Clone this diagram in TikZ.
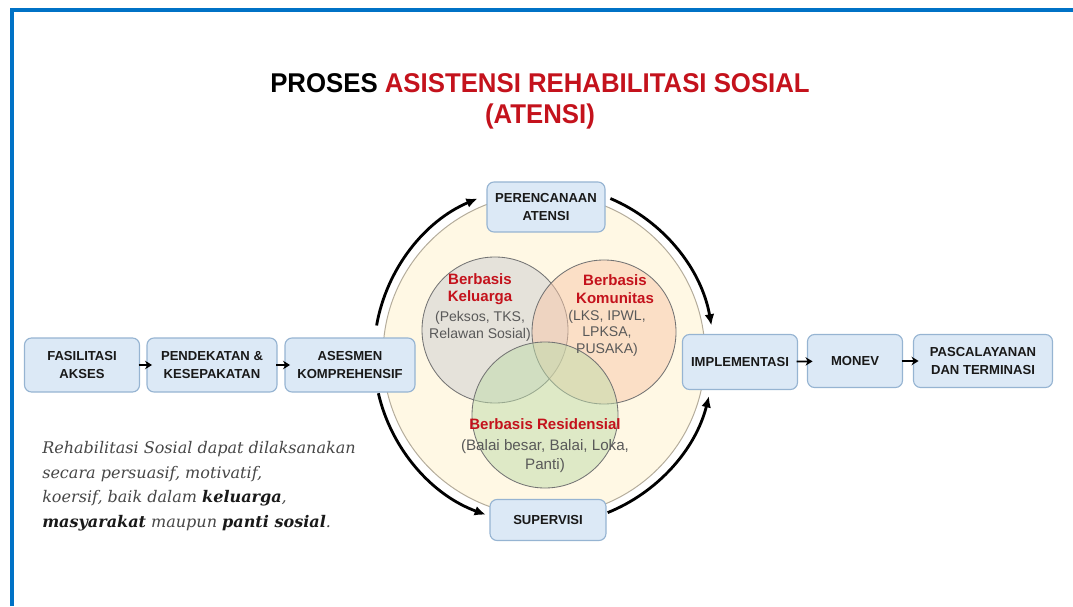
\documentclass[tikz,border=0pt]{standalone}
\usepackage{fontspec}
\setmainfont{Liberation Sans}
\newfontfamily\notefont{DejaVu Serif}
\usepackage{xcolor}
\usetikzlibrary{arrows.meta, positioning}
\definecolor{frameblue}{RGB}{0,114,198}
\definecolor{titlered}{RGB}{196,18,28}
\definecolor{boxfill}{RGB}{220,233,246}
\definecolor{boxline}{RGB}{150,180,210}
\definecolor{ringfill}{RGB}{255,248,228}
\definecolor{ringline}{RGB}{180,172,155}
\definecolor{kelfill}{RGB}{205,205,210}
\definecolor{komfill}{RGB}{248,200,170}
\definecolor{resfill}{RGB}{190,220,170}
\definecolor{notegray}{RGB}{70,70,70}

\tikzset{
  procbox/.style={draw=boxline, fill=boxfill, rounded corners=5pt, line width=0.8pt,
    align=center, inner sep=0pt, font=\fontsize{9.3}{13}\selectfont\bfseries, text=black!90},
  flowarrow/.style={-{Stealth[length=5pt,width=6pt]}, line width=1.3pt, shorten <=-1pt, shorten >=-4pt},
  cyclearrow/.style={-{Latex[length=8pt,width=7pt]}, line width=2pt},
  venn/.style={circle, draw=black!55, line width=0.6pt, fill opacity=0.5, inner sep=0pt, outer sep=0pt},
  venntitle/.style={font=\fontsize{10.7}{12.5}\selectfont\bfseries, text=titlered},
  vennbody/.style={font=\fontsize{10}{12}\selectfont, text=black!65}
}

\begin{document}
\begin{tikzpicture}
\useasboundingbox (0,0) rectangle (26.825,15.15);

 % frame
 \draw[frameblue, line width=3pt] (0.3,0) -- (0.3,14.9) -- (26.825,14.9);

 % title
 \node (title) at (13.5,13.07) {\scalebox{0.95}[1]{\fontsize{19.3}{22}\selectfont\bfseries PROSES \textcolor{titlered}{ASISTENSI REHABILITASI SOSIAL}}};
 \node[anchor=base] (subtitle) at ([yshift=-0.78cm]title.base) {\scalebox{0.95}[1]{\fontsize{19.3}{22}\selectfont\bfseries\textcolor{titlered}{(ATENSI)}}};

 % ring
 \node[circle, draw=ringline, fill=ringfill, line width=0.7pt, minimum size=8.05cm, inner sep=0pt] (ring) at (13.6,6.275) {};
 \node[circle, minimum size=8.5cm, inner sep=0pt, outer sep=0pt] (orbit) at (ring.center) {};

 \draw[cyclearrow] (orbit.170) arc[start angle=170, end angle=113, radius=4.25];
 \draw[cyclearrow] (orbit.67) arc[start angle=67, end angle=10, radius=4.25];
 \draw[cyclearrow] (orbit.193) arc[start angle=193, end angle=250, radius=4.25];
 \draw[cyclearrow] (orbit.292) arc[start angle=292, end angle=346, radius=4.25];

 % venn
 \node[venn, fill=kelfill, minimum size=3.65cm] (kel) at (12.375,6.9) {};
 \node[venn, fill=komfill, minimum size=3.6cm] (kom) at (15.1,6.85) {};
 \node[venn, fill=resfill, minimum size=3.65cm] (res) at (13.625,4.775) {};

 \node[venntitle, align=center] (keltitle) at (12.0,7.92) {Berbasis\\Keluarga};
 \node[vennbody, align=center, below=-2.5pt of keltitle] (kelbody) {(Peksos, TKS,\\Relawan Sosial)};
 \node[venntitle, align=center] (komtitle) at (15.375,7.92) {Berbasis\\Komunitas};
 \node[vennbody, align=center, below=-2.5pt of komtitle, xshift=-0.2cm] (kombody) {(LKS, IPWL,\\LPKSA,\\PUSAKA)};
 \node[venntitle] (restitle) at (13.625,4.55) {Berbasis Residensial};
 \node[vennbody, align=center, below=0pt of restitle, font=\fontsize{10.8}{13.5}\selectfont] (resbody) {(Balai besar, Balai, Loka,\\Panti)};

 % process boxes
 \node[procbox, minimum width=2.875cm, minimum height=1.35cm] (fasil) at (2.05,6.025) {FASILITASI\\AKSES};
 \node[procbox, minimum width=3.25cm, minimum height=1.35cm] (pendek) at (5.3,6.025) {PENDEKATAN \&\\KESEPAKATAN};
 \node[procbox, minimum width=3.25cm, minimum height=1.35cm] (asesmen) at (8.75,6.025) {ASESMEN\\KOMPREHENSIF};
 \node[procbox, minimum width=2.95cm, minimum height=1.25cm] (renc) at (13.65,9.975) {PERENCANAAN\\ATENSI};
 \node[procbox, minimum width=2.875cm, minimum height=1.375cm] (impl) at (18.5,6.1) {IMPLEMENTASI};
 \node[procbox, minimum width=2.375cm, minimum height=1.325cm] (monev) at (21.375,6.125) {MONEV};
 \node[procbox, minimum width=3.475cm, minimum height=1.325cm] (pasca) at (24.575,6.125) {PASCALAYANAN\\DAN TERMINASI};
 \node[procbox, minimum width=2.9cm, minimum height=1.025cm] (superv) at (13.7,2.15) {SUPERVISI};

 \draw[flowarrow] (fasil) -- (pendek);
 \draw[flowarrow] (pendek) -- (asesmen);
 \draw[flowarrow] (impl) -- (monev);
 \draw[flowarrow] (monev) -- (pasca);

 % note
 \node[anchor=north west, align=left, inner sep=0pt, text=notegray,
   font=\notefont\itshape\fontsize{11.4}{17.4}\selectfont] (note) at (1.05,4.12)
   {Rehabilitasi Sosial dapat dilaksanakan\\
    secara persuasif, motivatif,\\
    koersif, baik dalam \textbf{\color{black!90}keluarga},\\
    \textbf{\color{black!90}masyarakat} maupun \textbf{\color{black!90}panti sosial}.};
\end{tikzpicture}
\end{document}
